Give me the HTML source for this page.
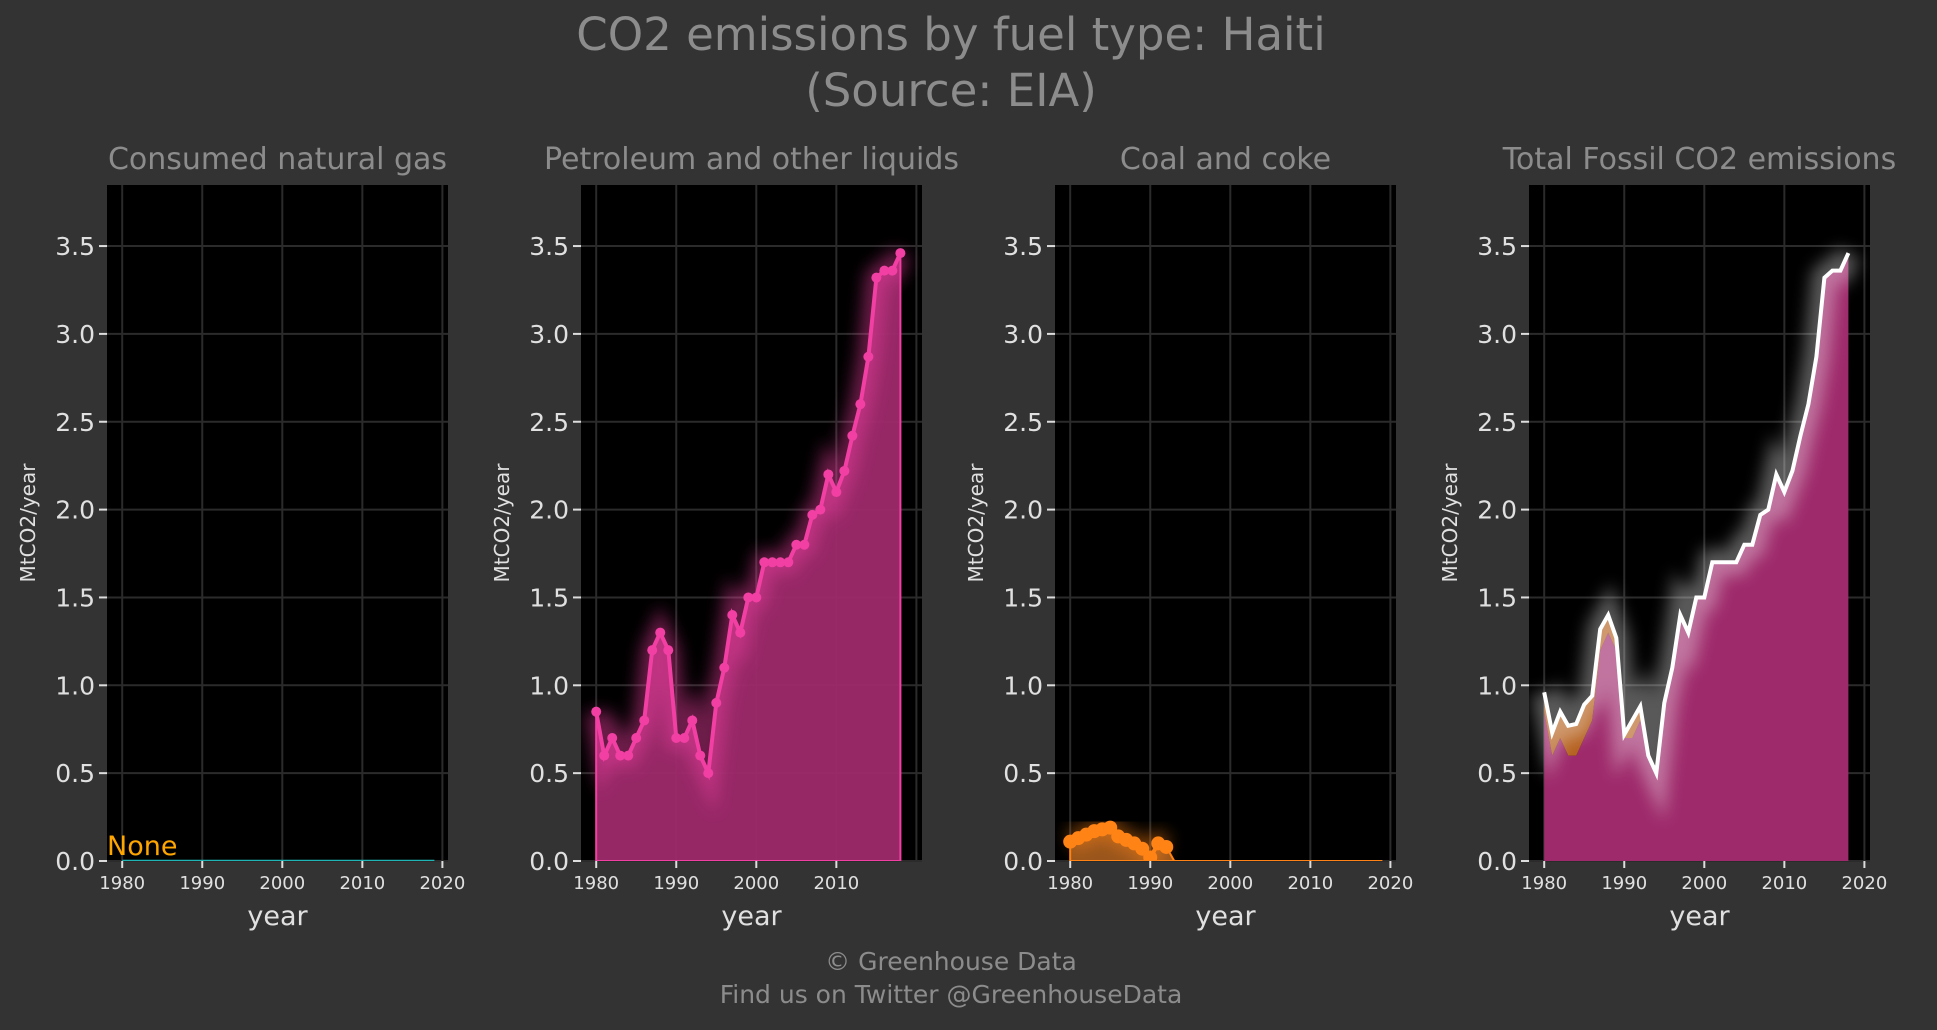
<!DOCTYPE html>
<html><head><meta charset="utf-8">
<style>
html,body{margin:0;padding:0;background:#333333;}
body{width:1937px;height:1026px;overflow:hidden;font-family:"DejaVu Sans","Liberation Sans",sans-serif;}
svg text{font-family:"DejaVu Sans","Liberation Sans",sans-serif;}
</style></head>
<body>
<svg id="chart" width="1937" height="1026" xmlns="http://www.w3.org/2000/svg">
<defs>
<filter id="glow" x="-20%" y="-20%" width="140%" height="140%"><feGaussianBlur stdDeviation="8"/></filter>
</defs>
<rect width="1937" height="1026" fill="#333333"/>
<text x="951" y="50" text-anchor="middle" font-size="45" fill="#8c8c8c">CO2 emissions by fuel type: Haiti</text>
<text x="951" y="106" text-anchor="middle" font-size="45" fill="#8c8c8c">(Source: EIA)</text>
<text x="951" y="970" text-anchor="middle" font-size="25" fill="#8c8c8c">© Greenhouse Data</text>
<text x="951" y="1003" text-anchor="middle" font-size="25" fill="#8c8c8c">Find us on Twitter @GreenhouseData</text>
<g id="panels"></g>
</svg>
<script>
const years = [];
for (let y = 1980; y <= 2019; y++) years.push(y);
const petroleum = [0.85,0.6,0.7,0.6,0.6,0.7,0.8,1.2,1.3,1.2,0.7,0.7,0.8,0.6,0.5,0.9,1.1,1.4,1.3,1.5,1.5,1.7,1.7,1.7,1.7,1.8,1.8,1.97,2.0,2.2,2.1,2.22,2.42,2.6,2.87,3.32,3.36,3.36,3.46];
const coal = [0.11,0.13,0.15,0.17,0.18,0.19,0.14,0.12,0.10,0.07,0.02,0.10,0.08,0,0,0,0,0,0,0,0,0,0,0,0,0,0,0,0,0,0,0,0,0,0,0,0,0,0,0];
const gas = [0,0,0,0,0,0,0,0,0,0,0,0,0,0,0,0,0,0,0,0,0,0,0,0,0,0,0,0,0,0,0,0,0,0,0,0,0,0,0,0];
const yTicks = [0,0.5,1.0,1.5,2.0,2.5,3.0,3.5];
const xTicks = [1980,1990,2000,2010,2020];
const panelTitles = ["Consumed natural gas","Petroleum and other liquids","Coal and coke","Total Fossil CO2 emissions"];

const NS = "http://www.w3.org/2000/svg";
const root = document.getElementById('panels');
const panelLefts = [107,581,1055,1529];
const PW = 341, TOP = 185, BOT = 861;
const X0 = 1978.1, X1 = 2020.7, Y1 = (BOT - TOP) / 175.7;
function mk(tag, attrs, parent) {
  const e = document.createElementNS(NS, tag);
  for (const k in attrs) e.setAttribute(k, attrs[k]);
  parent.appendChild(e);
  return e;
}
function lineStr(xs, ys, fx, fy) { return xs.map((x, i) => (i ? 'L' : 'M') + fx(x).toFixed(1) + ',' + fy(ys[i]).toFixed(1)).join(''); }
function areaStr(xs, top, base, fx, fy) {
  let d = xs.map((x, i) => (i ? 'L' : 'M') + fx(x).toFixed(1) + ',' + fy(top[i]).toFixed(1)).join('');
  for (let i = xs.length - 1; i >= 0; i--) d += 'L' + fx(xs[i]).toFixed(1) + ',' + fy(base[i]).toFixed(1);
  return d + 'Z';
}

panelLefts.forEach((L, p) => {
  const g = mk('g', {}, root);
  
  
  const fx = v => L + (v - X0) / (X1 - X0) * PW;
  const fy = v => BOT - v / Y1 * (BOT - TOP);
  const bg = mk('rect', {x: L, y: TOP, width: PW, height: BOT - TOP, fill: '#000'}, g);
  
  
  const grid = mk('g', {stroke: '#2b2b2b', 'stroke-width': 2}, g);
  
  
  yTicks.forEach(t => mk('line', {x1: L, x2: L + PW, y1: fy(t), y2: fy(t)}, grid));
  xTicks.forEach(t => { if (fx(t) <= L + PW) mk('line', {x1: fx(t), x2: fx(t), y1: TOP, y2: BOT}, grid); });
  yTicks.forEach(t => {
    mk('line', {x1: L - 8, x2: L, y1: fy(t), y2: fy(t), stroke: '#ddd', 'stroke-width': 2}, g);
    const tx = mk('text', {x: L - 12, y: fy(t) + 9, 'text-anchor': 'end', 'font-size': 25, fill: '#e0e0e0'}, g);
    tx.textContent = t.toFixed(1);
    
    
  });
  xTicks.forEach(t => {
    if (p === 1 && t === 2020) return;
    mk('line', {x1: fx(t), x2: fx(t), y1: BOT, y2: BOT + 7, stroke: '#ddd', 'stroke-width': 2}, g);
    const tx = mk('text', {x: fx(t), y: BOT + 28, 'text-anchor': 'middle', 'font-size': 18, fill: '#e0e0e0'}, g);
    tx.textContent = t;
    
    
  });
  const xt = mk('text', {x: L + PW / 2, y: BOT + 64, 'text-anchor': 'middle', 'font-size': 27, fill: '#e0e0e0'}, g);
  xt.textContent = 'year';
  
  
  const yt = mk('text', {x: 0, y: 0, 'text-anchor': 'middle', 'font-size': 20, fill: '#e0e0e0', transform: `translate(${L - 72},${(TOP + BOT) / 2}) rotate(-90)`}, g);
  yt.textContent = 'MtCO2/year';
  
  
  const pt = mk('text', {x: L + PW / 2, y: TOP - 16, 'text-anchor': 'middle', 'font-size': 30, fill: '#8c8c8c'}, g);
  pt.textContent = panelTitles[p];
  
  

  const clip = mk('clipPath', {id: 'clip' + p}, g);
  mk('rect', {x: L, y: TOP, width: PW, height: BOT - TOP}, clip);
  const s = mk('g', {'clip-path': `url(#clip${p})`}, g);
  
  

  if (p === 0) {
    const ln = mk('path', {d: lineStr(years, gas, fx, fy), stroke: '#1fb5b5', 'stroke-width': 2.5, fill: 'none'}, s);
    
    
    const nt = mk('text', {x: L, y: BOT - 6, 'font-size': 27, fill: '#ffa500'}, g);
    nt.textContent = 'None';
    
    
  } else if (p === 1 || p === 2) {
    const vals = p === 1 ? petroleum : coal;
    const xs = years.slice(0, vals.length);
    const lineC = p === 1 ? '#f23fa3' : '#ff8315';
    const fillC = p === 1 ? '#9e2a6b' : '#a05a1f';
    const ptsN = p === 1 ? vals.length : 13;
    const zero = vals.map(() => 0);
    const ar = mk('path', {d: areaStr(xs, vals, zero, fx, fy), fill: fillC, stroke: lineC, 'stroke-width': 2, 'fill-opacity': 0.95}, s);
    
    
    const gl = mk('path', {d: lineStr(xs.slice(0, ptsN), vals.slice(0, ptsN), fx, fy), stroke: lineC, 'stroke-width': 22, fill: 'none', opacity: 0.45, filter: 'url(#glow)'}, s);
    
    
    const ln = mk('path', {d: lineStr(xs.slice(0, ptsN), vals.slice(0, ptsN), fx, fy), stroke: lineC, 'stroke-width': 4, fill: 'none'}, s);
    
    
    for (let i = 0; i < ptsN; i++) {
      const c = mk('circle', {cx: fx(xs[i]), cy: fy(vals[i]), r: p === 1 ? 5 : 7, fill: lineC}, s);
      
      
    }
  } else {
    const n = petroleum.length;
    const xs = years.slice(0, n);
    const tot = petroleum.map((v, i) => v + coal[i]);
    const zero = petroleum.map(() => 0);
    const a1 = mk('path', {d: areaStr(xs, petroleum, zero, fx, fy), fill: '#9e2a6b'}, s);
    
    
    const a2 = mk('path', {d: areaStr(xs, tot, petroleum, fx, fy), fill: '#b5611f'}, s);
    
    
    const gl = mk('path', {d: lineStr(xs, tot, fx, fy), stroke: '#ffffff', 'stroke-width': 26, fill: 'none', opacity: 0.35, filter: 'url(#glow)'}, s);
    
    
    const ln = mk('path', {d: lineStr(xs, tot, fx, fy), stroke: '#ffffff', 'stroke-width': 4, fill: 'none'}, s);
    
    
  }
});
</script>
</body></html>
